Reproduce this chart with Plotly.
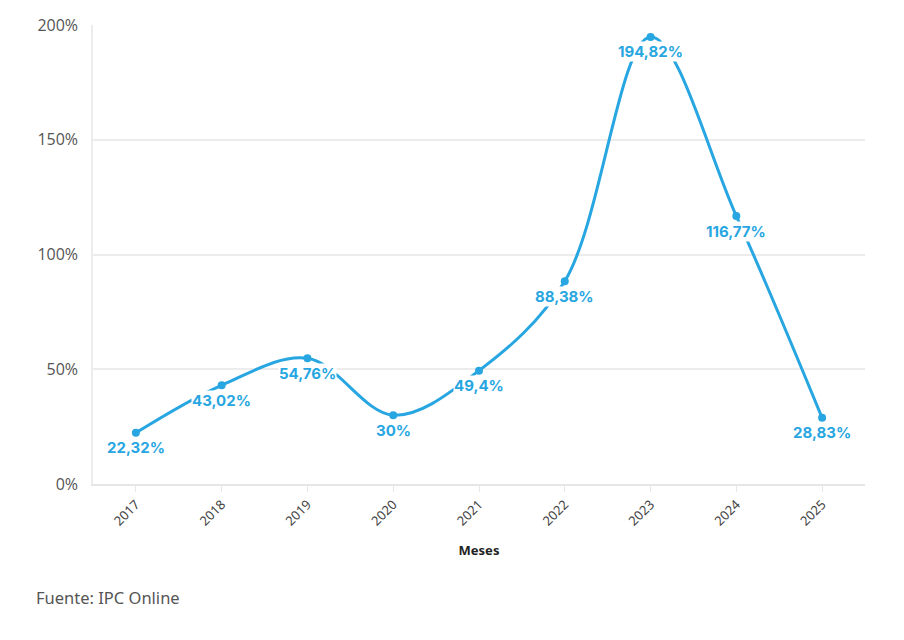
import plotly.graph_objects as go

years = ["2017", "2018", "2019", "2020", "2021", "2022", "2023", "2024", "2025"]
values = [22.32, 43.02, 54.76, 30.0, 49.4, 88.38, 194.82, 116.77, 28.83]
labels = ["22,32%", "43,02%", "54,76%", "30%", "49,4%", "88,38%", "194,82%", "116,77%", "28,83%"]
y_ticks = [0, 50, 100, 150, 200]
y_tick_text = ["0%", "50%", "100%", "150%", "200%"]

color = "#27a6e1"

fig = go.Figure()
fig.add_trace(go.Scatter(
    x=years, y=values, mode="lines+markers",
    line=dict(color=color, width=3, shape="spline", smoothing=1),
    marker=dict(color=color, size=8),
    hoverinfo="skip", showlegend=False,
))

for i, (y, t) in enumerate(zip(values, labels)):
    fig.add_annotation(
        x=i, y=y, xref="x", yref="y", text="<b>" + t + "</b>", showarrow=False,
        yshift=-15, bgcolor="white", borderpad=0,
        font=dict(family="Inter, Noto Sans, sans-serif", size=15, color=color),
    )

fig.add_annotation(
    xref="paper", yref="paper", x=-0.077, y=-0.247, xanchor="left", yanchor="middle",
    text="Fuente: IPC Online", showarrow=False,
    font=dict(family="Noto Sans, sans-serif", size=16.5, color="#555555"),
)

fig.update_layout(
    width=904, height=640,
    margin=dict(l=93, r=39, t=25, b=156),
    paper_bgcolor="white", plot_bgcolor="white",
    xaxis=dict(
        type="category", range=[-0.5, 8.5],
        tickangle=-45, tickfont=dict(family="Noto Sans, sans-serif", size=13, color="#444444"),
        showgrid=False, showline=True, linecolor="#e6e6e6", linewidth=1.5,
        ticks="outside", ticklen=6, tickcolor="#e6e6e6",
        title=dict(text="<b>Meses</b>", font=dict(family="Noto Sans, sans-serif", size=13, color="#222222"), standoff=18),
        fixedrange=True,
    ),
    yaxis=dict(
        range=[0, 200], tickmode="array", tickvals=y_ticks, ticktext=y_tick_text,
        tickfont=dict(family="Open Sans, sans-serif", size=16, color="#555555"),
        showgrid=True, gridcolor="#ececec", gridwidth=1.5, zeroline=False,
        showline=True, linecolor="#ececec", linewidth=1.5,
        ticks="outside", ticklen=10, tickcolor="white",
        fixedrange=True,
    ),
)

fig.write_html("out.html", config={"displayModeBar": False},
               post_script="document.body.style.margin='0';document.body.style.padding='0';")
